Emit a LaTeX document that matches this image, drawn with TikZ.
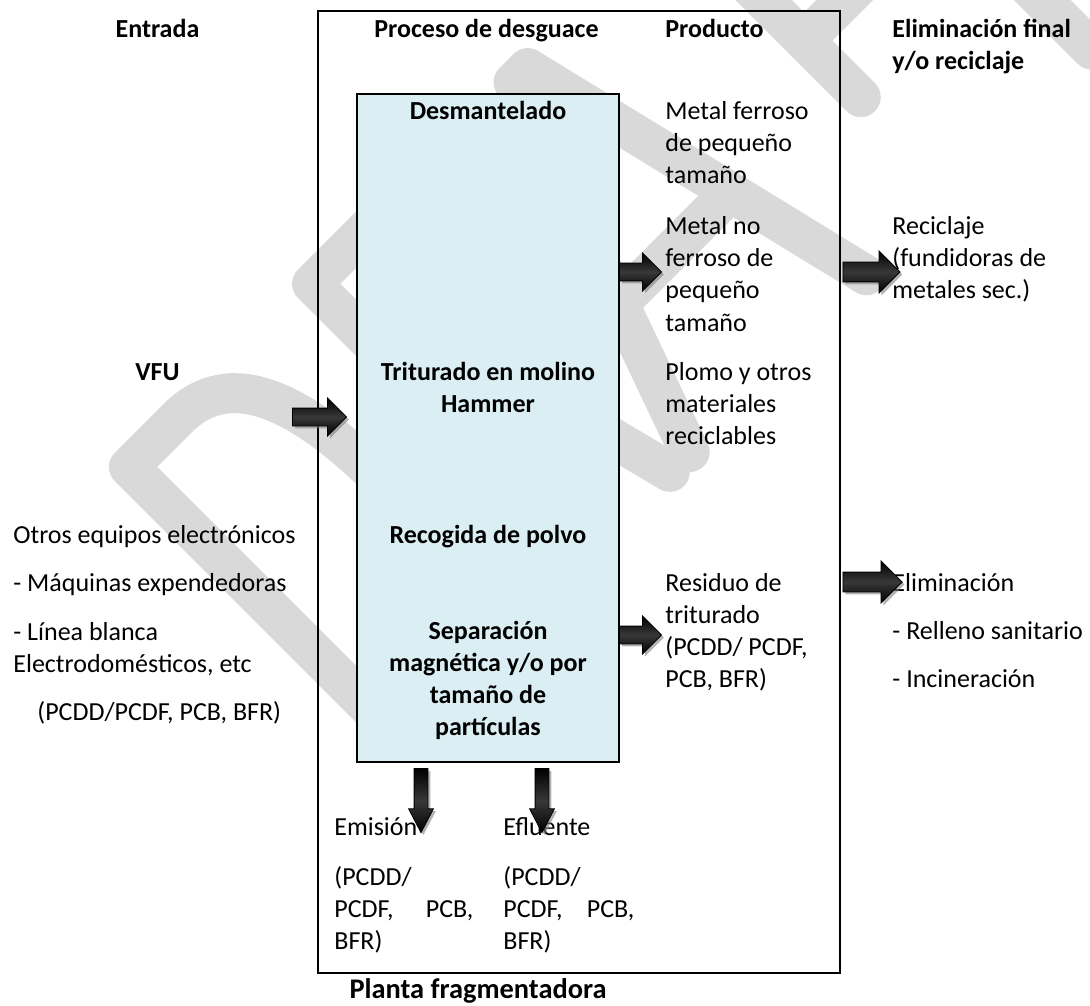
\documentclass[tikz,border=0pt]{standalone}
\usepackage{fontspec}
\setmainfont{Carlito}
\usetikzlibrary{shapes.arrows,shadows}
\definecolor{procfill}{HTML}{DAEEF3}
\definecolor{markgray}{HTML}{D9D9D9}
\tikzset{
  txt/.style={inner sep=0pt, font=\fontsize{13}{16}\selectfont},
  bold/.style={inner sep=0pt, font=\fontsize{13}{16}\selectfont\bfseries},
  lblock/.style={txt, anchor=base west, align=flush left, text width=#1},
  lblock/.default=110pt,
  cblock/.style={bold, anchor=base, align=flush center, text width=130pt},
  blockarrow/.style={single arrow, draw=black, line width=0.4pt, inner xsep=0pt, minimum width=0pt,
    single arrow head indent=0pt, single arrow tip angle=90,
    top color=black, bottom color=black, middle color=black!78,
    drop shadow={shadow xshift=1.2pt, shadow yshift=-1.2pt, fill=black!50, opacity=0.6}},
  harrow/.style={blockarrow, inner ysep=4.25pt, single arrow head extend=5pt},
  varrow/.style={blockarrow, rotate=-90, inner ysep=3.25pt,
    single arrow head extend=2.75pt, single arrow tip angle=55, minimum height=32pt},
  frameline/.style={draw=black, line width=1pt},
  markstroke/.style={draw=markgray, line width=20pt, line cap=round, line join=round},
}
\newcommand{\spreadline}[3]{\leavevmode\hbox to #1{#2\hfill #3}}
\begin{document}
\begin{tikzpicture}[x=0.5pt,y=-0.5pt]
\useasboundingbox (0,0) rectangle (1090,1005);

% background watermark: large letters set along the diagonal
\begin{scope}
  \clip (0,0) rectangle (1090,1005);
  \begin{scope}[shift={(585,585)}]
  \begin{scope}[x={(0.35355pt,0.35355pt)}, y={(-0.35355pt,0.35355pt)}]
    % D
    \draw[markstroke] (-239,20) -- (-239,406) -- (-170,406)
      .. controls (-95,406) and (-70,330) .. (-70,213)
      .. controls (-70,96) and (-95,20) .. (-170,20) -- cycle;
    % R
    \draw[markstroke] (20,20) -- (20,406) -- (100,406)
      .. controls (165,406) and (165,215) .. (100,215) -- (20,215);
    \draw[markstroke] (90,215) -- (140,20);
    % A
    \draw[markstroke] (168,20) -- (305,406) -- (325,406) -- (418,20);
    \draw[markstroke] (225,175) -- (380,175);
    % F
    \draw[markstroke] (540,560) -- (540,150);
    \draw[markstroke] (540,230) -- (690,230);
    % T
    \draw[markstroke] (737,20) -- (737,406);
  \end{scope}
  \end{scope}
\end{scope}

% plant frame and process box
\draw[frameline] (318,11) rectangle (840,973);
\draw[frameline, fill=procfill] (357,94) rectangle (619,762);

% column headers
\node[bold, anchor=base] (hIn) at (157.5,38) {Entrada};
\node[bold, anchor=base] (hProc) at (486.5,38) {Proceso de desguace};
\node[bold, anchor=base west] (hProd) at (665,38) {Producto};
\node[bold, anchor=base west, align=flush left, text width=110pt] (hElim) at (892,38)
  {Eliminación final\\y/o reciclaje};

% process steps
\node[cblock] (desm) at (488,120) {Desmantelado};
\node[cblock] (trit) at (488,380) {Triturado en molino\\Hammer};
\node[cblock] (polvo) at (488,543) {Recogida de polvo};
\node[cblock] (sep) at (488,639) {Separación\\magnética y/o por\\tamaño de\\partículas};

% inputs
\node[bold, anchor=base] (vfu) at (157.5,380) {VFU};
\node[txt, anchor=base west] (otros) at (13,543) {Otros equipos electrónicos};
\node[txt, anchor=base west] (maq) at (13,591) {- Máquinas expendedoras};
\node[lblock=150pt] (linea) at (13,640) {- Línea blanca\\Electrodomésticos, etc};
\node[txt, anchor=base west] (contIn) at (37,720) {(PCDD/PCDF, PCB, BFR)};

% products
\node[lblock] (ferr) at (665,120) {Metal ferroso\\de pequeño\\tamaño};
\node[lblock] (noferr) at (665,235) {Metal no\\ferroso de\\pequeño\\tamaño};
\node[lblock] (plomo) at (665,380) {Plomo y otros\\materiales\\reciclables};
\node[lblock] (resid) at (665,591) {Residuo de\\triturado\\(PCDD/ PCDF,\\PCB, BFR)};

% final disposal
\node[lblock] (recic) at (892,235) {Reciclaje\\(fundidoras de\\metales sec.)};
\node[txt, anchor=base west] (elim) at (892,591) {Eliminación};
\node[txt, anchor=base west] (relleno) at (892,639) {- Relleno sanitario};
\node[txt, anchor=base west] (incin) at (892,687) {- Incineración};

% releases
\node[txt, anchor=base west] (emis) at (334,835) {Emisión};
\node[lblock=80pt] (emisC) at (334,885) {(PCDD/\\\spreadline{69.5pt}{PCDF,}{PCB,}\\BFR)};
\node[txt, anchor=base west] (eflu) at (503,835) {Efluente};
\node[lblock=80pt] (efluC) at (503,885) {(PCDD/\\\spreadline{65.5pt}{PCDF,}{PCB,}\\BFR)};

\node[inner sep=0pt, font=\fontsize{14.2}{17}\selectfont\bfseries, anchor=base]
  (planta) at (478,998) {Planta fragmentadora};

% block arrows
\node[harrow, minimum height=27pt] (inArrow) at (315,417) {};
\node[harrow, minimum height=21pt] (metArrow) at (636,272) {};
\node[harrow, minimum height=28.5pt, inner ysep=4.75pt, single arrow head extend=5.5pt] (recArrow) at (866.5,272) {};
\node[harrow, minimum height=21pt] (resArrow) at (636,635) {};
\node[harrow, minimum height=29.5pt, inner ysep=4.75pt, single arrow head extend=5.5pt] (elimArrow) at (867.5,582) {};
\node[varrow] (emArrow) at (421,794) {};
\node[varrow] (efArrow) at (542,794) {};
\end{tikzpicture}
\end{document}
